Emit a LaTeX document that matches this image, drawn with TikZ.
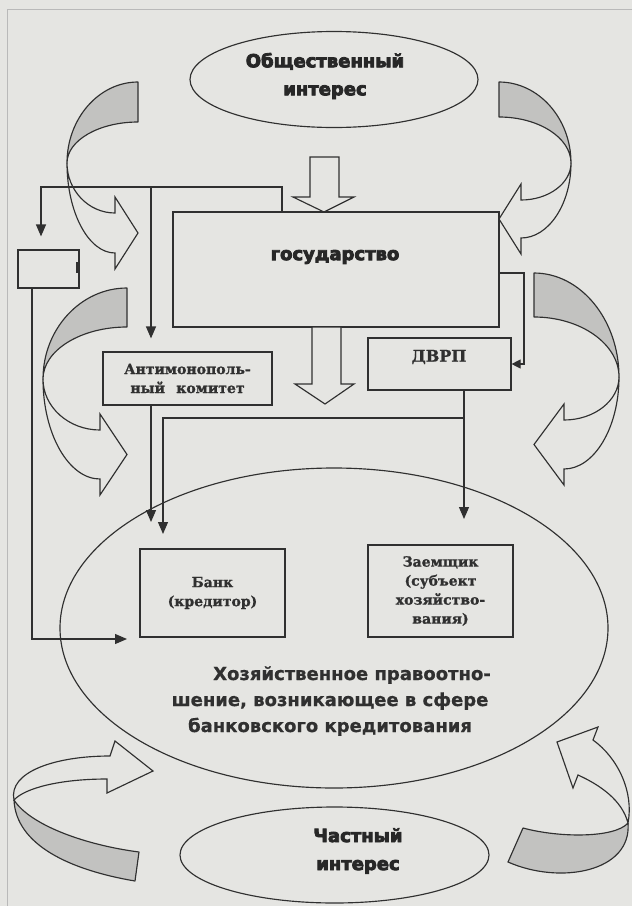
\documentclass[tikz,border=0pt]{standalone}
\usepackage{fontspec}
\usetikzlibrary{arrows.meta,shapes.geometric}
\newfontfamily\heavyfont[BoldFeatures={FakeBold=4.5}]{DejaVu Sans}
\newfontfamily\verdfont[BoldFeatures={FakeBold=0.8}]{DejaVu Sans}
\newfontfamily\serbfont[BoldFeatures={FakeBold=1.2}]{DejaVu Serif}
\definecolor{paper}{RGB}{229,229,226}
\definecolor{ink}{RGB}{48,48,48}
\definecolor{shadegray}{RGB}{194,194,192}
\tikzset{
  ln/.style={draw=ink, line width=1.15pt},
  conn/.style={ln, -{Triangle[length=12pt,width=10pt]}},
  smallconn/.style={ln, -{Triangle[length=9pt,width=9pt]}},
  box/.style={ln, rectangle, inner sep=0pt},
  oval/.style={ln, ellipse, inner sep=0pt},
  crescent/.style={ln, fill=shadegray, line join=round},
  band/.style={ln, line join=miter},
  hollow/.style={ln, fill=paper, line join=miter},
  heavytxt/.style={font=\heavyfont\bfseries\fontsize{18}{28}\selectfont, text=ink!80!black, align=center, inner sep=0pt},
  verdtxt/.style={font=\verdfont\bfseries\fontsize{18}{26}\selectfont, text=ink, align=center, inner sep=0pt},
  sertxt/.style={font=\serbfont\bfseries\fontsize{14}{19}\selectfont, text=ink, align=center, inner sep=0pt},
  border/.style={draw=gray!55, line width=0.8pt}
}
% R, T1, T2, L, M, N, K1, K2
\newcommand\ribbonarrow[8]{%
  \filldraw[crescent] (#1,#2) .. controls ({#1+0.55*(#4-#1)},#2) and (#4,{#5+0.55*(#2-#5)}) .. (#4,#5)
     .. controls (#4,{#5+0.55*(#3-#5)}) and ({#1+0.55*(#4-#1)},#3) .. (#1,#3) -- cycle;
  \draw[band] (#4,#5) .. controls (#4,{#5+0.55*(#7-#5)}) and ({#6+0.55*(#4-#6)},#7) .. (#6,#7)
     -- (#6,{#7-16}) -- (#1,{(#7+#8)/2}) -- (#6,{#8+16}) -- (#6,#8)
     .. controls ({#6+0.55*(#4-#6)},#8) and (#4,{#5+0.55*(#8-#5)}) .. (#4,#5) -- cycle;
}
\begin{document}
\begin{tikzpicture}[x=1pt,y=-1pt]
\useasboundingbox (0,0) rectangle (632,906);
\fill[paper] (0,0) rectangle (632,906);
\draw[border] (7,9) -- (632,9);
\draw[border] (7,9) -- (7,906);

% curved ribbon arrows
\ribbonarrow{138}{82}{122}{67}{163}{115}{213}{253}
\ribbonarrow{127}{288}{327}{43}{379}{100}{430}{479}
\ribbonarrow{499}{82}{117}{571}{163}{521}{200}{238}
\ribbonarrow{534}{273}{317}{619}{377}{564}{420}{469}
% bottom left ribbon
\filldraw[crescent] (14,800) .. controls (16,845) and (70,870) .. (135,881) -- (139,852)
   .. controls (85,845) and (30,825) .. (14,800) -- cycle;
\draw[band] (14,800) .. controls (8,772) and (55,756) .. (110,756) -- (115,741) -- (153,771)
   -- (107,793) -- (107,779) .. controls (60,779) and (25,788) .. (14,800) -- cycle;
% bottom right ribbon
\filldraw[crescent] (523,828) -- (508,862) .. controls (560,885) and (632,872) .. (628,823)
   .. controls (615,838) and (560,838) .. (523,828) -- cycle;
\draw[band] (628,823) .. controls (634,792) and (618,758) .. (593,740) -- (598,727) -- (557,742)
   -- (573,788) -- (578,775) .. controls (600,785) and (622,800) .. (628,823) -- cycle;

% ellipses
\node[oval, minimum width=288, minimum height=96] (pub) at (334,79.5) {};
\node[heavytxt] (pubtxt) at (325,76) {Общественный\\интерес};
\node[oval, minimum width=548, minimum height=320] (rel) at (334,628) {};
\node[verdtxt] (reltxt) at (330,701) {\hspace*{44pt}Хозяйственное правоотно-\\шение, возникающее в сфере\\банковского кредитования};
\node[oval, minimum width=309, minimum height=96] (priv) at (334.5,855) {};
\node[heavytxt] (privtxt) at (358,851) {Частный\\интерес};

% boxes
\node[box, minimum width=326, minimum height=115] (state) at (336,269.5) {};
\node[heavytxt] (statetxt) at (335,257) {государство};
\node[box, minimum width=169, minimum height=53, sertxt] (amc) at (187.5,378.5) {Антимонополь-\\ный\hspace{0.8em}комитет};
\node[box, minimum width=143, minimum height=52] (dvrp) at (439.5,364) {};
\node[sertxt, font=\serbfont\bfseries\fontsize{16}{19}\selectfont] (dvrptxt) at (439,357) {ДВРП};
\node[box, minimum width=61, minimum height=38] (small) at (48.5,269) {};
\draw[ink, line width=3pt] (77.5,262) -- (77.5,273);
\node[box, minimum width=145, minimum height=88, sertxt] (bank) at (212.5,593) {Банк\\(кредитор)};
\node[box, minimum width=145, minimum height=92, sertxt] (borrower) at (440.5,591) {Заемщик\\(субъект\\хозяйство-\\вания)};

% hollow block arrows
\draw[hollow] (310,157) -- (339,157) -- (339,197) -- (354,197) -- (324,212) -- (293,197) -- (310,197) -- cycle;
\draw[hollow] (312,327) -- (341,327) -- (341,384) -- (354,384) -- (325,404) -- (295,384) -- (312,384) -- cycle;

% connectors
\coordinate (j1) at (282,187);
\coordinate (j2) at (41,187);
\coordinate (j3) at (151,187);
\draw[conn, shorten >=13pt] (state.north -| j1) -- (j1) -- (j2) -- (small.north -| j2);
\draw[conn, shorten >=13pt] (j3) -- (amc.north -| j3);
\coordinate (j4) at (524,273);
\draw[smallconn] (state.east |- j4) -- (j4) |- (dvrp.east);
\coordinate (e1) at (151,522);
\draw[conn] (amc.south -| e1) -- (e1);
\coordinate (e2) at (464,519);
\draw[conn] (dvrp.south -| e2) -- (e2);
\coordinate (j5) at (464,418);
\coordinate (e3) at (163,534);
\draw[conn] (j5) -| (e3);
\coordinate (j6) at (32,639);
\coordinate (e4) at (127,639);
\draw[conn] (small.south -| j6) -- (j6) -- (e4);
\end{tikzpicture}
\end{document}
